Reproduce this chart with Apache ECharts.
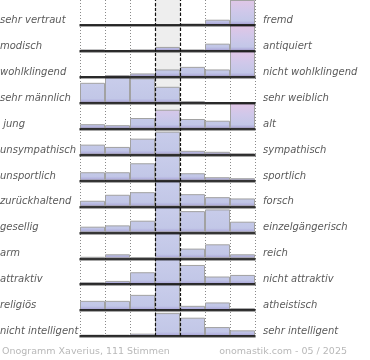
<!DOCTYPE html>
<html>
<head>
<meta charset="utf-8">
<script src="https://cdn.jsdelivr.net/npm/echarts@6/dist/echarts.min.js"></script>
<style>
html,body{margin:0;padding:0;background:#fff;}
#chart{width:370px;height:360px;}
</style>
</head>
<body>
<div id="chart"></div>
<script>
// ---------- data ----------
const leftLabels = ['sehr vertraut','modisch','wohlklingend','sehr männlich',' jung','unsympathisch','unsportlich','zurückhaltend','gesellig','arm','attraktiv','religiös','nicht intelligent'];
const rightLabels = ['fremd','antiquiert','nicht wohlklingend','sehr weiblich','alt','sympathisch','sportlich','forsch','einzelgängerisch','reich','nicht attraktiv','atheistisch','sehr intelligent'];
const steps = ['1','2','3','4','5','6','7'];
const row0  = [0, 0, 0, 0, 1.5, 5.5, 26];
const row1  = [1.5, 0.3, 1.5, 4, 1.5, 7.3, 26];
const row2  = [0, 1.7, 3.4, 7.4, 10, 7.4, 26];
const row3  = [20, 25.5, 24.5, 16, 1.6, 0, 0];
const row4  = [4.5, 3.5, 10.7, 19, 9.7, 8, 26];
const row5  = [10, 7.7, 16, 23, 3.8, 2.8, 1.2];
const row6  = [8.3, 8.3, 17.3, 25, 7.3, 3.3, 2.3];
const row7  = [5.7, 11.7, 14.3, 26, 12.3, 9.3, 8];
const row8  = [5.7, 7, 11.7, 26, 21.3, 23, 10.7];
const row9  = [1.5, 4, 1.3, 26, 9.7, 14, 4];
const row10 = [2, 3.3, 12, 26, 19.3, 7.7, 9.3];
const row11 = [9.3, 9.3, 15.3, 26, 4.3, 7.7, 2];
const row12 = [1.4, 1.4, 2.4, 23, 18.4, 9, 5.7];
const footerLeft = 'Onogramm Xaverius, 111 Stimmen';
const footerRight = 'onomastik.com - 05 / 2025';
const rows = [row0,row1,row2,row3,row4,row5,row6,row7,row8,row9,row10,row11,row12];

// ---------- layout & style ----------
const yMax = 26;
const rowH = 25.92;
const base0 = 25;
const plotLeft = 80, plotWidth = 175;
const PINK_CELLS = ['0-6','1-6','2-6','4-3','4-6'];
const labelFont = 'italic 10px "DejaVu Sans"';
const labelColor = '#5a5a5a';

function grad(top, bottom, pink){
  const stops = pink
    ? [{offset:0,color:'#e2c6e6'},{offset:0.45,color:'#d0c8ea'},{offset:0.84,color:'#c3c7e8'},{offset:0.93,color:'#b2b0dd'},{offset:1,color:'#9c8ecb'}]
    : [{offset:0,color:'#c9cdeb'},{offset:0.84,color:'#c2c7e7'},{offset:0.93,color:'#b3b2de'},{offset:1,color:'#9c8ecb'}];
  return {type:'linear', x:0, y:top, x2:0, y2:bottom, global:true, colorStops:stops};
}

const grid = [], xAxis = [], yAxis = [], series = [], graphic = [];
rows.forEach((vals, i) => {
  const bottom = base0 + i*rowH;
  const top = bottom - rowH;
  grid.push({left:plotLeft, width:plotWidth, top:top, height:rowH});
  xAxis.push({type:'category', gridIndex:i, data:steps, boundaryGap:true,
    axisLine:{show:true, lineStyle:{color:'#000', width:1.5, shadowColor:'rgba(0,0,0,0.35)', shadowOffsetY:1.2}},
    axisTick:{show:false}, axisLabel:{show:false}, splitLine:{show:false}, z:5});
  yAxis.push({type:'value', gridIndex:i, min:0, max:yMax, show:false});
  series.push({type:'bar', xAxisIndex:i, yAxisIndex:i, barCategoryGap:'0%', barGap:'0%', z:3,
    silent:true, animation:false,
    data: vals.map((v, j) => ({value:v, itemStyle:{
      color: grad(top, bottom, PINK_CELLS.includes(i+'-'+j)),
      borderColor:'#a2a2a2', borderWidth:1}}))
  });
  graphic.push({type:'text', x:0, y:bottom-4.6, silent:true,
    style:{text:leftLabels[i], font:labelFont, fill:labelColor, align:'left', verticalAlign:'middle'}});
  graphic.push({type:'text', x:263, y:bottom-4.6, silent:true,
    style:{text:rightLabels[i], font:labelFont, fill:labelColor, align:'left', verticalAlign:'middle'}});
});

// background grid (column rules, neutral column shading, dashed neutral bounds)
const bg = rows.length;
const bottomAll = base0 + (rows.length-1)*rowH;
grid.push({left:plotLeft, width:plotWidth, top:0, height:bottomAll});
const clear = 'rgba(0,0,0,0)';
xAxis.push({type:'value', gridIndex:bg, min:0, max:7, interval:1,
  axisLine:{show:false}, axisTick:{show:false}, axisLabel:{show:false},
  splitLine:{show:true, showMinLine:true, showMaxLine:true, lineStyle:{color:'#8a8a8a', type:[1,2], width:1}},
  splitArea:{show:true, areaStyle:{color:[clear,clear,clear,'#eeeeee',clear,clear,clear]}}, z:0});
yAxis.push({type:'value', gridIndex:bg, min:0, max:1, show:false});
series.push({type:'line', xAxisIndex:bg, yAxisIndex:bg, data:[[3.5,0.5]], symbol:'none',
  lineStyle:{width:0, opacity:0}, silent:true, animation:false, z:10,
  markLine:{symbol:'none', silent:true, animation:false, z:10, label:{show:false},
    lineStyle:{color:'#111', type:[3,2], width:1.2},
    data:[{xAxis:3},{xAxis:4}]}});

graphic.push({type:'text', x:2, y:352, silent:true,
  style:{text:footerLeft, font:'9.5px "DejaVu Sans"', fill:'#b8b8b8', align:'left', verticalAlign:'middle'}});
graphic.push({type:'text', x:347, y:352, silent:true,
  style:{text:footerRight, font:'9.5px "DejaVu Sans"', fill:'#b8b8b8', align:'right', verticalAlign:'middle'}});

const chart = echarts.init(document.getElementById('chart'), null, {renderer:'canvas'});
chart.setOption({animation:false, grid, xAxis, yAxis, series, graphic});
</script>
</body>
</html>
